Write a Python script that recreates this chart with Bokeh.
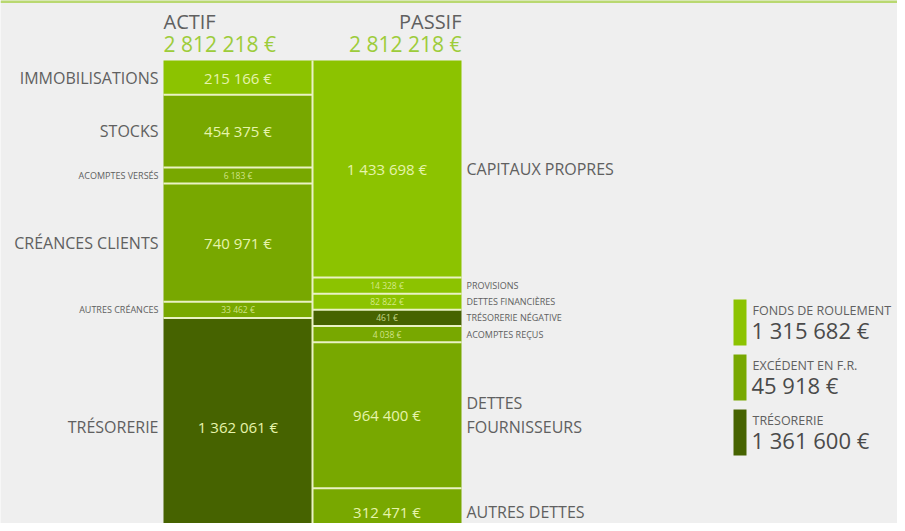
from bokeh.plotting import figure
from bokeh.models import Range1d, ColumnDataSource
from bokeh.core.properties import value
from bokeh.embed import file_html
from bokeh.resources import INLINE

# ---------------- data ----------------
actif_labels = ["IMMOBILISATIONS", "STOCKS", "ACOMPTES VERSÉS", "CRÉANCES CLIENTS",
                "AUTRES CRÉANCES", "TRÉSORERIE"]
actif_values = [215166, 454375, 6183, 740971, 33462, 1362061]
actif_kind = ["fr", "bfr", "bfr", "bfr", "bfr", "treso"]

passif_labels = ["CAPITAUX PROPRES", "PROVISIONS", "DETTES FINANCIÈRES", "TRÉSORERIE NÉGATIVE",
                 "ACOMPTES REÇUS", "DETTES\nFOURNISSEURS", "AUTRES DETTES"]
passif_values = [1433698, 14328, 82822, 461, 4038, 964400, 312471]
passif_kind = ["fr", "fr", "fr", "treso", "bfr", "bfr", "bfr"]

summary_labels = ["FONDS DE ROULEMENT", "EXCÉDENT EN F.R.", "TRÉSORERIE"]
summary_values = [1315682, 45918, 1361600]
summary_kind = ["fr", "bfr", "treso"]

header_labels = ["ACTIF", "PASSIF"]

# ---------------- style ----------------
COLORS = {"fr": "#8cc300", "bfr": "#78a800", "treso": "#466300"}
BG = "#efefef"
SEP = "#eaf2c4"
LABEL = "#606060"
VALTXT = "#e6f4ac"
HEADGREEN = "#9dcc3a"
FONT = "Open Sans"

W, H = 897, 523
BAR_TOP = 60             # pixel row of bar top
BAR_PX = 475             # pixel height of one full column
SMALL_FRAC = 0.034       # minimum visible share of tiny items


def fmt(v):
    return f"{v:,}".replace(",", " ") + " €"


def ry(Y):
    """pixel row -> data units"""
    return (Y - BAR_TOP) / BAR_PX


def layout(values):
    total = sum(values)
    small = [v < 0.05 * total for v in values]
    big_total = sum(v for v, s in zip(values, small) if not s)
    rest = 1.0 - SMALL_FRAC * sum(small)
    hs = [SMALL_FRAC if s else v / big_total * rest for v, s in zip(values, small)]
    tops, bots = [], []
    c = 0.0
    for h in hs:
        tops.append(c)
        c += h
        bots.append(c)
    return tops, bots, small


p = figure(width=W, height=H, output_backend="svg", toolbar_location=None,
           x_range=Range1d(0, W),
           y_range=Range1d(ry(H), ry(0)),
           min_border=0, outline_line_color=None,
           background_fill_color=BG, border_fill_color=BG)
p.axis.visible = False
p.grid.visible = False

# thin green rule at the very top
p.segment(x0=[0], x1=[W], y0=[ry(1)], y1=[ry(1)], line_color="#b9d870", line_width=3)

cols = [
    (actif_labels, actif_values, actif_kind, 163, 312, "right", 158),
    (passif_labels, passif_values, passif_kind, 312, 461, "left", 466),
]

for labels, vals, kinds, x0, x1, align, lx in cols:
    tops, bots, small = layout(vals)
    src = ColumnDataSource(dict(
        left=[x0] * len(vals), right=[x1] * len(vals), top=tops, bottom=bots,
        color=[COLORS[k] for k in kinds],
        mid=[(t + b) / 2 for t, b in zip(tops, bots)],
        cx=[(x0 + x1) / 2] * len(vals),
        lx=[lx] * len(vals),
        val=[fmt(v) for v in vals], lab=labels,
    ))
    p.quad(left="left", right="right", top="top", bottom="bottom",
           fill_color="color", line_color=None, source=src)
    # separators between segments
    p.segment(x0=[x0] * (len(vals) - 1), x1=[x1] * (len(vals) - 1),
              y0=bots[:-1], y1=bots[:-1], line_color=SEP, line_width=2)
    big = [i for i, s in enumerate(small) if not s]
    sml = [i for i, s in enumerate(small) if s]
    for idx, vsize, lsize, valpha in ((big, "15px", "16px", 1.0), (sml, "8.5px", "9px", 0.8)):
        if not idx:
            continue
        sub = ColumnDataSource({k: [src.data[k][i] for i in idx] for k in src.data})
        p.text(x="cx", y="mid", text="val", source=sub, text_align="center",
               text_baseline="middle", text_color=VALTXT, text_alpha=valpha,
               text_font_size=vsize, text_font=value(FONT))
        p.text(x="lx", y="mid", text="lab", source=sub, text_align=align,
               text_baseline="middle", text_color=LABEL, text_font_size=lsize,
               text_font=value(FONT), text_line_height=1.1)

# vertical separator between the two columns
p.segment(x0=[312], x1=[312], y0=[0], y1=[1.2], line_color=SEP, line_width=2)

# headers
totals = [sum(actif_values), sum(passif_values)]
p.text(x=[163], y=[ry(21)], text=[header_labels[0]], text_align="left",
       text_baseline="middle", text_color=LABEL, text_font_size="20px",
       text_font=value(FONT))
p.text(x=[461], y=[ry(21)], text=[header_labels[1]], text_align="right",
       text_baseline="middle", text_color=LABEL, text_font_size="20px",
       text_font=value(FONT))
p.text(x=[163], y=[ry(43)], text=[fmt(totals[0])], text_align="left",
       text_baseline="middle", text_color=HEADGREEN, text_font_size="21px",
       text_font=value(FONT))
p.text(x=[461], y=[ry(43)], text=[fmt(totals[1])], text_align="right",
       text_baseline="middle", text_color=HEADGREEN, text_font_size="21px",
       text_font=value(FONT))

# summary legend boxes
box_tops = [299, 354, 409]
p.quad(left=[733] * 3, right=[746] * 3,
       top=[ry(t) for t in box_tops], bottom=[ry(t + 46) for t in box_tops],
       fill_color=[COLORS[k] for k in summary_kind], line_color=None)
p.text(x=[752] * 3, y=[ry(t + 11) for t in box_tops], text=summary_labels,
       text_align="left", text_baseline="middle", text_color=LABEL,
       text_font_size="12.5px", text_font=value(FONT))
p.text(x=[751] * 3, y=[ry(t + 30) for t in box_tops],
       text=[fmt(v) for v in summary_values], text_align="left",
       text_baseline="middle", text_color="#4a4a4a", text_font_size="22px",
       text_font=value(FONT))

open("out.html", "w").write(file_html(p, INLINE))
